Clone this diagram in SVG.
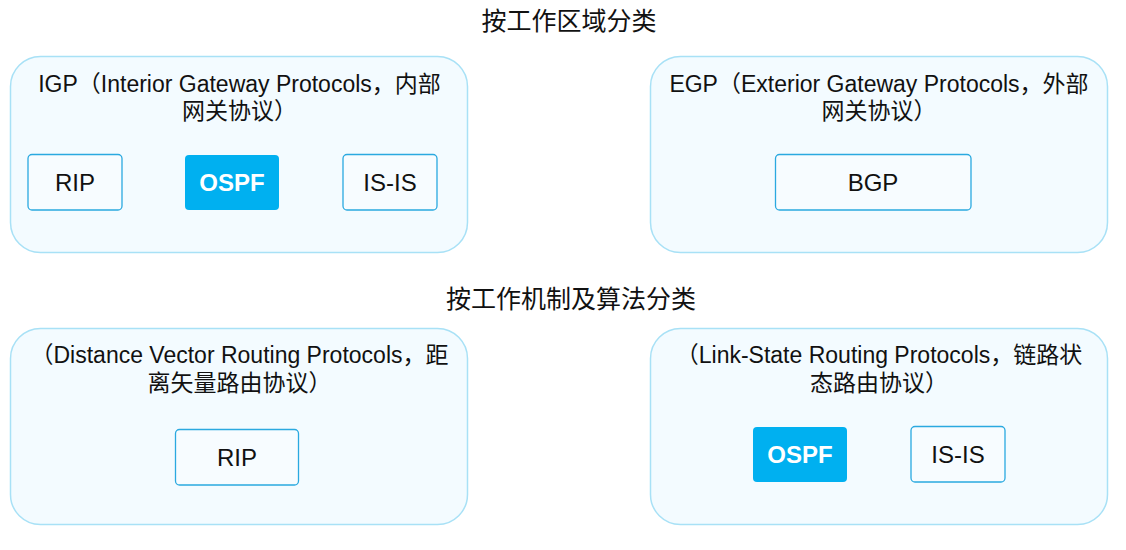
<svg xmlns="http://www.w3.org/2000/svg" width="1126" height="550" viewBox="0 0 1126 550">
<style>
.bg{fill:#ffffff}
.group{fill:#f3fbff;stroke:#a8e1f6;stroke-width:1.5}
.box{fill:#f7fcff;stroke:#2aa9e0;stroke-width:1.3}
.hl{fill:#00b0f0}
.t{font-family:"Liberation Sans","Noto Sans CJK SC",sans-serif;fill:#111;text-anchor:middle}
.title{font-size:25px}
.gl{font-size:23px}
.bt{font-size:24px}
.wb{font-size:24px;font-weight:bold;fill:#ffffff}
</style>
<rect class="bg" x="0" y="0" width="1126" height="550"/>
<text class="t title" x="569" y="30">按工作区域分类</text>
<text class="t title" x="571" y="308">按工作机制及算法分类</text>
<g id="igp">
<rect class="group" x="10.5" y="56.5" width="457" height="196" rx="30"/>
<text class="t gl" x="239.5" y="92">IGP（Interior Gateway Protocols，内部</text>
<text class="t gl" x="239.5" y="119">网关协议）</text>
</g>
<g id="egp">
<rect class="group" x="650.5" y="56.5" width="457" height="196" rx="30"/>
<text class="t gl" x="879" y="92">EGP（Exterior Gateway Protocols，外部</text>
<text class="t gl" x="879" y="119">网关协议）</text>
</g>
<g id="dv">
<rect class="group" x="10.5" y="328.5" width="457" height="196" rx="30"/>
<text class="t gl" x="239.5" y="363">（Distance Vector Routing Protocols，距</text>
<text class="t gl" x="239.5" y="391">离矢量路由协议）</text>
</g>
<g id="ls">
<rect class="group" x="650.5" y="328.5" width="457" height="196" rx="30"/>
<text class="t gl" x="879" y="363">（Link-State Routing Protocols，链路状</text>
<text class="t gl" x="879" y="391">态路由协议）</text>
</g>
<g id="rip1">
<rect class="box" x="28" y="154.5" width="94" height="55.5" rx="4"/>
<text class="t bt" x="75" y="191">RIP</text>
</g>
<g id="ospf1">
<rect class="hl" x="185" y="155" width="94" height="55" rx="4"/>
<text class="t wb" x="232" y="191">OSPF</text>
</g>
<g id="isis1">
<rect class="box" x="343" y="154.5" width="94" height="55.5" rx="4"/>
<text class="t bt" x="390" y="191">IS-IS</text>
</g>
<g id="bgp">
<rect class="box" x="775.5" y="154.5" width="195.5" height="55.5" rx="4"/>
<text class="t bt" x="873" y="191">BGP</text>
</g>
<g id="rip2">
<rect class="box" x="175.5" y="429.5" width="123" height="55.5" rx="4"/>
<text class="t bt" x="237" y="466">RIP</text>
</g>
<g id="ospf2">
<rect class="hl" x="753" y="427" width="94" height="55" rx="4"/>
<text class="t wb" x="800" y="463">OSPF</text>
</g>
<g id="isis2">
<rect class="box" x="911" y="426.5" width="94" height="55.5" rx="4"/>
<text class="t bt" x="958" y="463">IS-IS</text>
</g>
<g id="connectors"></g>
</svg>
